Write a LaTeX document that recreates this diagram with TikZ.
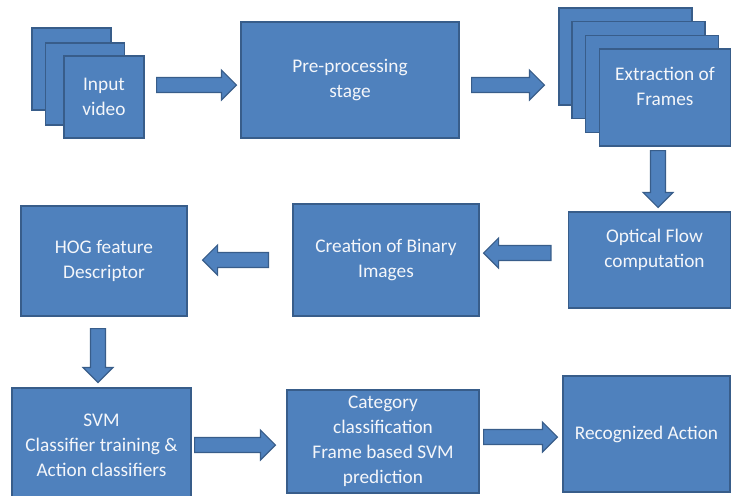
\documentclass[tikz,border=0pt]{standalone}
\usepackage{fontspec}
\setmainfont{Carlito}
\usetikzlibrary{calc}
\definecolor{boxfill}{HTML}{4F81BD}
\definecolor{boxline}{HTML}{385D8A}
\definecolor{boxtext}{HTML}{F4F6FA}
\tikzset{
  box/.style={draw=boxline, fill=boxfill, line width=1.2pt, inner sep=0pt,
    text=boxtext, align=center, font=\fontsize{19.3}{25}\selectfont},
  txt/.style={text=boxtext, align=center, inner sep=0pt, font=\fontsize{19.3}{25}\selectfont},
  blockarrow/.style={draw=boxline, fill=boxfill, line width=1.2pt, line join=miter,
    to path={let \p3=($(\tikztotarget)!15pt!(\tikztostart)$) in
      ($(\tikztostart)!7.5pt!-90:(\tikztotarget)$) --
      ($(\p3)!7.5pt!-90:(\tikztotarget)$) --
      ($(\p3)!15pt!-90:(\tikztotarget)$) --
      (\tikztotarget) --
      ($(\p3)!15pt!90:(\tikztotarget)$) --
      ($(\p3)!7.5pt!90:(\tikztotarget)$) --
      ($(\tikztostart)!7.5pt!90:(\tikztotarget)$) -- cycle}}
}
\begin{document}
\begin{tikzpicture}[x=1pt, y=-1pt]
\useasboundingbox (0,0) rectangle (732,496);
% Input video stack
\node[box, minimum width=79pt, minimum height=82pt] (in1) at (71.5,69) {};
\node[box, minimum width=79pt, minimum height=82pt] (in2) at (85,84) {};
\node[box, minimum width=80pt, minimum height=82pt] (in3) at (104,97) {Input\\video};
% Pre-processing
\node[box, minimum width=218pt, minimum height=116pt] (pre) at (350,80) {Pre-processing\\stage};
% Extraction stack
\node[box, minimum width=133pt, minimum height=97pt] (ext1) at (625.5,56.5) {};
\node[box, minimum width=133pt, minimum height=97pt] (ext2) at (638.5,70) {};
\node[box, minimum width=133pt, minimum height=97pt] (ext3) at (652,84) {};
\node[box, minimum width=131pt, minimum height=97pt] (ext4) at (665,97.5) {};
\node[txt] (extt) at ([yshift=11pt]ext4.center) {Extraction of\\Frames};
% Optical flow
\node[box, minimum width=162pt, minimum height=96pt] (opt) at (649.5,260) {};
\node[txt] (optt) at ([xshift=5pt,yshift=10pt]opt.center) {Optical Flow\\computation};
% Creation of binary images
\node[box, minimum width=186pt, minimum height=112pt] (cre) at (386,260) {Creation of Binary\\Images};
% HOG
\node[box, minimum width=166pt, minimum height=110pt] (hog) at (104,261) {HOG feature\\Descriptor};
% SVM
\node[box, minimum width=179pt, minimum height=114pt] (svm) at (101.5,445) {SVM\\Classifier training \&\\Action classifiers};
% Category
\node[box, minimum width=192pt, minimum height=103pt] (cat) at (383,441.5) {Category\\classification\\Frame based SVM\\prediction};
% Recognized action
\node[box, minimum width=167pt, minimum height=116pt] (rec) at (646.5,434) {Recognized Action};
% Arrows
\draw[blockarrow] ([xshift=12pt,yshift=-5pt]in3.east |- pre.west) to ([xshift=-4pt,yshift=-5pt]pre.west);
\draw[blockarrow] ([xshift=12pt,yshift=-5pt]pre.east) to ([xshift=-14pt,yshift=-5pt]pre.east -| ext1.west);
\draw[blockarrow] ([xshift=-7pt,yshift=-4pt]ext4.south) to ([xshift=-7pt,yshift=4pt]ext4.south |- opt.north);
\draw[blockarrow] ([xshift=-17pt,yshift=7pt]opt.west) to ([xshift=4pt,yshift=7pt]opt.west -| cre.east);
\draw[blockarrow] ([xshift=-24pt]cre.west) to ([xshift=15pt]cre.west -| hog.east);
\draw[blockarrow] ([xshift=-6pt,yshift=-12pt]hog.south) to ([xshift=-6pt,yshift=5pt]hog.south |- svm.north);
\draw[blockarrow] ([xshift=3pt]svm.east) to ([xshift=-11pt]svm.east -| cat.west);
\draw[blockarrow] ([xshift=4pt,yshift=4.5pt]cat.east) to ([xshift=-5pt,yshift=4.5pt]cat.east -| rec.west);
\end{tikzpicture}
\end{document}
